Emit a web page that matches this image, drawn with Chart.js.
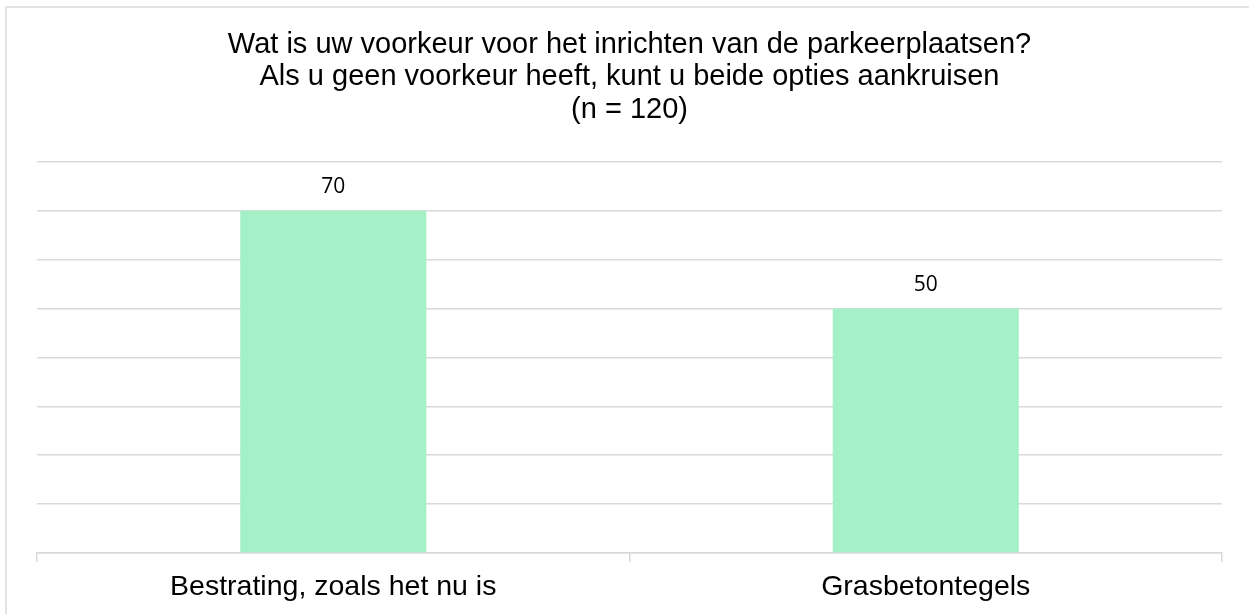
<!DOCTYPE html>
<html>
<head>
<meta charset="utf-8">
<script src="https://cdn.jsdelivr.net/npm/chart.js@4/dist/chart.umd.min.js"></script>
<style>
  html, body { margin: 0; padding: 0; background: #ffffff; overflow: hidden; }
  #wrap { position: absolute; left: 0; top: 0; width: 1249px; height: 614px; }
  #frame { position: absolute; left: 5px; top: 6px; width: 1300px; height: 700px; border: 2px solid #e2e2e2; box-sizing: border-box; }
  canvas { position: absolute; left: 0; top: 0; }
</style>
</head>
<body>
<div id="wrap">
  <div id="frame"></div>
  <canvas id="c" width="1249" height="614"></canvas>
</div>
<script>
const titleLines = [
  'Wat is uw voorkeur voor het inrichten van de parkeerplaatsen?',
  'Als u geen voorkeur heeft, kunt u beide opties aankruisen',
  '(n = 120)'
];
const categories = ['Bestrating, zoals het nu is', 'Grasbetontegels'];
const counts = [70, 50];
const yMin = 0;
const yMax = 80;
const yStep = 10;

const dataLabels = {
  id: 'dataLabels',
  afterDatasetsDraw(chart) {
    const ctx = chart.ctx;
    const meta = chart.getDatasetMeta(0);
    ctx.save();
    ctx.font = '21px "Open Sans", sans-serif';
    ctx.fillStyle = '#000000';
    ctx.textAlign = 'center';
    ctx.textBaseline = 'alphabetic';
    meta.data.forEach((bar, i) => {
      ctx.fillText(String(counts[i]), bar.x, bar.y - 18);
    });
    ctx.restore();
  }
};

new Chart(document.getElementById('c'), {
  type: 'bar',
  data: {
    labels: categories,
    datasets: [{
      data: counts,
      backgroundColor: '#a4f1c8',
      borderWidth: 0,
      categoryPercentage: 1.0,
      barPercentage: 0.314
    }]
  },
  options: {
    responsive: false,
    animation: false,
    devicePixelRatio: 1,
    layout: { padding: { left: 37, right: 27, top: 0, bottom: 0 } },
    plugins: {
      legend: { display: false },
      tooltip: { enabled: false },
      title: {
        display: true,
        text: titleLines,
        color: '#000000',
        font: { family: '"Liberation Sans", Arial, sans-serif', size: 29, weight: 'normal', lineHeight: 1.12 },
        padding: { top: 28.5, bottom: 36 }
      }
    },
    scales: {
      x: {
        grid: { display: true, drawOnChartArea: false, drawTicks: true, tickLength: 9, color: '#d9d9d9', lineWidth: 1.5, offset: true },
        border: { display: true, color: '#d9d9d9', width: 1.5 },
        ticks: { color: '#000000', padding: 8, font: { family: '"Liberation Sans", Arial, sans-serif', size: 28.5 }, maxRotation: 0 },
        afterFit(s) { s.height = 61; }
      },
      y: {
        min: yMin, max: yMax,
        ticks: { display: false, stepSize: yStep },
        grid: { color: '#d9d9d9', lineWidth: 1.5, drawTicks: false },
        border: { display: false },
        afterFit(s) { s.width = 0; }
      }
    }
  },
  plugins: [dataLabels]
});
</script>
</body>
</html>
